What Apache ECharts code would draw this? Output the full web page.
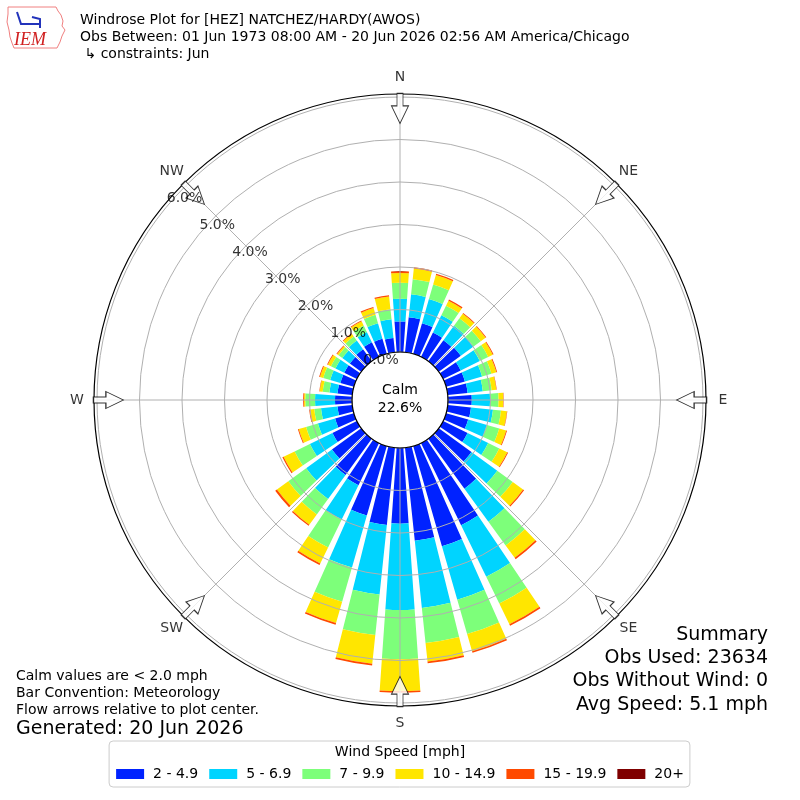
<!DOCTYPE html>
<html><head><meta charset="utf-8">
<script src="https://cdn.jsdelivr.net/npm/echarts@6/dist/echarts.min.js"></script>
<style>html,body{margin:0;padding:0;background:#fff}#c{width:800px;height:800px}</style>
</head><body><div id="c"></div>
<script>
// ---- data ----
const directions = [0,10,20,30,40,50,60,70,80,90,100,110,120,130,140,150,160,170,180,190,200,210,220,230,240,250,260,270,280,290,300,310,320,330,340,350];
const speedBins = ['2 - 4.9','5 - 6.9','7 - 9.9','10 - 14.9','15 - 19.9','20+'];
const binColors = ['#0022ff','#00d4ff','#7dff7a','#ffe600','#ff4a00','#7f0000'];
const spd2to49   = [0.72,0.83,0.75,0.64,0.61,0.64,0.46,0.46,0.47,0.56,0.55,0.54,0.64,0.95,1.45,2.15,2.45,2.20,1.78,1.83,1.70,1.10,1.05,0.85,0.64,0.46,0.35,0.40,0.35,0.33,0.33,0.33,0.35,0.38,0.37,0.34];
const spd5to69   = [0.53,0.54,0.59,0.45,0.42,0.37,0.50,0.42,0.36,0.43,0.52,0.46,0.54,0.75,0.96,1.35,1.31,1.59,2.03,1.64,1.27,0.90,0.70,0.75,0.59,0.42,0.39,0.47,0.19,0.25,0.23,0.22,0.25,0.27,0.38,0.44];
const spd7to99   = [0.38,0.36,0.36,0.25,0.22,0.21,0.22,0.23,0.21,0.20,0.19,0.30,0.29,0.45,0.69,0.70,0.84,0.83,1.16,0.96,0.84,0.73,0.45,0.52,0.40,0.29,0.16,0.23,0.16,0.17,0.12,0.11,0.12,0.17,0.21,0.24];
const spd10to149 = [0.23,0.25,0.23,0.13,0.13,0.14,0.12,0.12,0.11,0.11,0.14,0.17,0.21,0.30,0.36,0.54,0.42,0.44,0.75,0.68,0.52,0.42,0.30,0.33,0.29,0.18,0.10,0.03,0.07,0.08,0.08,0.04,0.07,0.11,0.16,0.30];
const spd15to199 = [0.04,0.03,0.03,0.03,0.02,0.02,0.02,0.02,0.01,0.01,0.01,0.02,0.02,0.03,0.04,0.04,0.04,0.04,0.04,0.04,0.04,0.04,0.03,0.05,0.03,0.02,0.02,0.02,0.01,0.02,0.02,0.02,0.02,0.02,0.03,0.03];
const spd20plus  = [0,0,0,0,0,0,0,0,0,0,0,0,0,0,0,0,0,0,0,0,0,0,0,0,0,0,0,0,0,0,0,0,0,0,0,0];
const radiusTicks = [0,1,2,3,4,5,6];
const compassNames = ['N','NE','E','SE','S','SW','W','NW'];
const compassAngles = [0,45,90,135,180,225,270,315];
const calmPct = 22.6;
const obsUsed = 23634, obsWithoutWind = 0, avgSpeed = 5.1;

// ---- layout constants ----
const CX = 400, CY = 400, R_IN = 48, R_OUT = 303, R_FRAME = 306, R_LAB = 323;
const FONT = 'DejaVu Sans';
const RLABEL_ANGLE = 309.6;
const ARROW_R = 0.953;

const seriesData = [spd2to49, spd5to69, spd7to99, spd10to149, spd15to199, spd20plus];

const hidden = {axisLine:{show:false},axisTick:{show:false},axisLabel:{show:false},splitLine:{show:false}};

const chart = echarts.init(document.getElementById('c'), null, {renderer:'canvas'});
const arrowPath = 'path://M5.5,0 L11.5,0 L11.5,12.5 L17,12.5 L8.5,30 L0,12.5 L5.5,12.5 Z';

const option = {
  animation: false,
  backgroundColor: '#fff',
  polar: [
    {center:[CX,CY], radius:[R_IN,R_OUT]},
    {center:[CX,CY], radius:[R_IN,R_OUT]},
    {center:[CX,CY], radius:[0,R_FRAME]},
    {center:[CX,CY], radius:[0,R_LAB]},
    {center:[CX,CY], radius:[0,R_IN]}
  ],
  angleAxis: [
    Object.assign({polarIndex:0, type:'category', data:directions, startAngle:95, clockwise:true, boundaryGap:true}, hidden),
    {polarIndex:1, type:'value', min:0, max:360, interval:45, startAngle:90, clockwise:true, z:10,
      axisLine:{show:false}, axisTick:{show:false}, axisLabel:{show:false},
      splitLine:{show:true, lineStyle:{color:'#b0b0b0', width:1}}},
    {polarIndex:2, type:'value', min:0, max:360, startAngle:90, clockwise:true, z:11,
      axisLine:{show:true, lineStyle:{color:'#000', width:1.2}}, axisTick:{show:false}, axisLabel:{show:false}, splitLine:{show:false}},
    Object.assign({polarIndex:3, type:'value', min:0, max:360, startAngle:90, clockwise:true}, hidden),
    {polarIndex:4, type:'value', min:0, max:360, startAngle:90, clockwise:true, z:12,
      axisLine:{show:true, lineStyle:{color:'#000', width:1.2}}, axisTick:{show:false}, axisLabel:{show:false}, splitLine:{show:false}}
  ],
  radiusAxis: [
    Object.assign({polarIndex:0, type:'value', min:0, max:6}, hidden),
    {polarIndex:1, type:'value', min:0, max:6, interval:1, z:10,
      axisLine:{show:false}, axisTick:{show:false}, axisLabel:{show:false},
      splitLine:{show:true, lineStyle:{color:'#b0b0b0', width:1}}},
    Object.assign({polarIndex:2, type:'value', min:0, max:1}, hidden),
    Object.assign({polarIndex:3, type:'value', min:0, max:1}, hidden),
    Object.assign({polarIndex:4, type:'value', min:0, max:1}, hidden)
  ],
  legend: {
    data: speedBins, left:'center', top:741, orient:'horizontal',
    padding:[26,6,6,7], itemWidth:28, itemHeight:10, itemGap:11, icon:'rect',
    textStyle:{fontSize:14, fontFamily:FONT, color:'#000', padding:[0,0,0,4]},
    borderColor:'#cccccc', borderWidth:1, borderRadius:4, backgroundColor:'#fff',
    selectedMode:false
  },
  series: [
    ...seriesData.map((d,i) => ({
      type:'bar', name:speedBins[i], coordinateSystem:'polar', polarIndex:0, stack:'wind',
      data:d, barCategoryGap:'20%', itemStyle:{color:binColors[i]}, emphasis:{disabled:true}, silent:true
    })),
    {
      type:'scatter', coordinateSystem:'polar', polarIndex:2, z:21, silent:true,
      symbol: arrowPath, symbolSize:[17,30],
      itemStyle:{color:'#fff', borderColor:'#000', borderWidth:1},
      data: compassAngles.map(a => ({value:[ARROW_R, a], symbolRotate:-a}))
    },
    {
      type:'scatter', coordinateSystem:'polar', polarIndex:1, z:25, silent:true,
      symbolSize:1, itemStyle:{color:'rgba(0,0,0,0)'},
      data: radiusTicks.map(v => [v, RLABEL_ANGLE]),
      label:{show:true, position:'inside', offset:[18,-9], color:'#000', fontSize:14, fontFamily:FONT,
        formatter: p => p.value[0].toFixed(1) + '%'}
    },
    {
      type:'scatter', coordinateSystem:'polar', polarIndex:3, z:20, silent:true,
      symbolSize:1, itemStyle:{color:'rgba(0,0,0,0)'},
      data: compassAngles.map(a => [1, a]),
      label:{show:true, position:'inside', color:'#000', fontSize:14, fontFamily:FONT,
        formatter: p => compassNames[p.dataIndex]}
    }
  ],
  graphic: [
    {type:'polyline', z:100, silent:true, shape:{points:[[8,7],[56,7],[58,11],[61,15],[63,21],[62,26],[65,30],[62,36],[60,42],[57,48],[14,48],[12,43],[10,37],[9,30],[7,22],[8,14],[8,7]]},
      style:{stroke:'#f08080', lineWidth:1, fill:null}},
    {type:'polyline', z:100, silent:true, shape:{points:[[17,12],[21,24],[40,24]]}, style:{stroke:'#2233bb', lineWidth:2, fill:null}},
    {type:'polyline', z:100, silent:true, shape:{points:[[32,17],[40,19],[40,28]]}, style:{stroke:'#2233bb', lineWidth:2, fill:null}},
    {type:'text', z:100, silent:true, style:{text:'IEM', x:14, y:40, fill:'#d02020', fontSize:18, fontStyle:'italic', fontFamily:'Liberation Serif', align:'left', verticalAlign:'middle'}},
    {type:'text', z:100, silent:true, style:{
      text:'Windrose Plot for [HEZ] NATCHEZ/HARDY(AWOS)\nObs Between: 01 Jun 1973 08:00 AM - 20 Jun 2026 02:56 AM America/Chicago\n \u21b3 constraints: Jun',
      x:80, y:12.3, fill:'#000', fontSize:14, fontFamily:FONT, lineHeight:16.7, align:'left', verticalAlign:'top'}},
    {type:'text', z:100, silent:true, style:{
      text:'Calm\n' + calmPct.toFixed(1) + '%', x:CX, y:CY-1, fill:'#000', fontSize:14, fontFamily:FONT, lineHeight:18, align:'center', verticalAlign:'middle'}},
    {type:'text', z:100, silent:true, style:{
      text:'Calm values are < 2.0 mph\nBar Convention: Meteorology\nFlow arrows relative to plot center.',
      x:16, y:667.5, fill:'#000', fontSize:14, fontFamily:FONT, lineHeight:17, align:'left', verticalAlign:'top'}},
    {type:'text', z:100, silent:true, style:{
      text:'Generated: 20 Jun 2026', x:16, y:729, fill:'#000', fontSize:19, fontFamily:FONT, align:'left', verticalAlign:'middle'}},
    {type:'text', z:100, silent:true, style:{
      text:'Summary\nObs Used: ' + obsUsed + '\nObs Without Wind: ' + obsWithoutWind + '\nAvg Speed: ' + avgSpeed.toFixed(1) + ' mph',
      x:768, y:623.3, fill:'#000', fontSize:19, fontFamily:FONT, lineHeight:23.3, align:'right', verticalAlign:'top'}},
    {type:'text', z:100, silent:true, style:{
      text:'Wind Speed [mph]', x:400, y:752, fill:'#000', fontSize:14, fontFamily:FONT, align:'center', verticalAlign:'middle'}}
  ]
};
chart.setOption(option);
</script>
</body></html>
